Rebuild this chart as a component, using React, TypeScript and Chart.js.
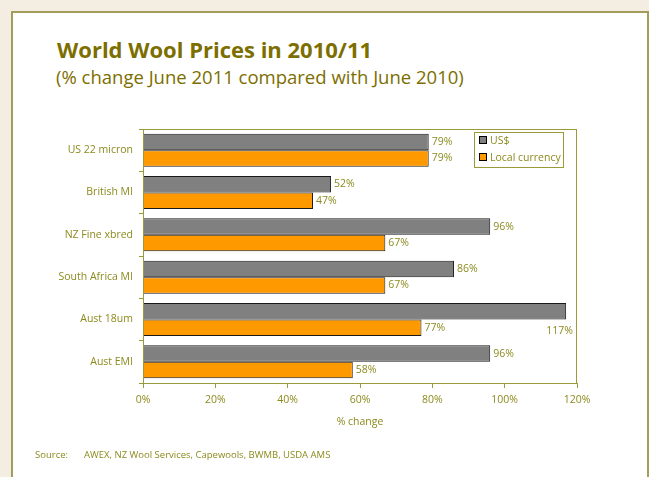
import React, { useEffect, useRef } from "react";
import { Chart, registerables } from "chart.js";

Chart.register(...registerables);

const categories = ["US 22 micron", "British MI", "NZ Fine xbred", "South Africa MI", "Aust 18um", "Aust EMI"];
const usdValues = [79, 52, 96, 86, 117, 96];
const localValues = [79, 47, 67, 67, 77, 58];
const seriesNames = ["US$", "Local currency"];
const xTicks = [0, 20, 40, 60, 80, 100, 120];

const OLIVE = "#8c8a1e";
const FRAME = "#9a9a3a";
const FONT = "'Open Sans', 'Liberation Sans', sans-serif";

const labelPlugin = {
  id: "valueLabels",
  afterDatasetsDraw(chart: any) {
    const { ctx, chartArea } = chart;
    ctx.save();
    ctx.font = `10.5px ${FONT}`;
    ctx.fillStyle = OLIVE;
    ctx.textBaseline = "middle";
    chart.data.datasets.forEach((ds: any, di: number) => {
      const meta = chart.getDatasetMeta(di);
      meta.data.forEach((el: any, i: number) => {
        const text = ds.data[i] + "%";
        const w = ctx.measureText(text).width;
        if (el.x + 3 + w > chartArea.right) {
          ctx.textAlign = "right";
          ctx.fillText(text, chartArea.right - 4, el.y + el.height / 2 + 12);
        } else {
          ctx.textAlign = "left";
          ctx.fillText(text, el.x + 3, el.y);
        }
      });
    });
    ctx.restore();
  },
};

const framePlugin = {
  id: "plotFrame",
  afterDraw(chart: any) {
    const { ctx, chartArea } = chart;
    ctx.save();
    ctx.strokeStyle = FRAME;
    ctx.lineWidth = 1;
    ctx.strokeRect(chartArea.left + 0.5, chartArea.top + 0.5, chartArea.right - chartArea.left - 1, chartArea.bottom - chartArea.top);
    // legend
    const lx = 474, ly = 132, lw = 89, lh = 35;
    ctx.fillStyle = "#ffffff";
    ctx.fillRect(lx, ly, lw, lh);
    ctx.strokeStyle = FRAME;
    ctx.strokeRect(lx + 0.5, ly + 0.5, lw, lh);
    ctx.font = `10.5px ${FONT}`;
    ctx.textBaseline = "middle";
    ctx.textAlign = "left";
    chart.data.datasets.forEach((ds: any, i: number) => {
      const cy = ly + 9 + i * 17;
      ctx.fillStyle = ds.backgroundColor;
      ctx.fillRect(lx + 5.5, cy - 4.5, 7, 7);
      ctx.strokeStyle = "#000";
      ctx.strokeRect(lx + 5.5, cy - 4.5, 7, 7);
      ctx.fillStyle = OLIVE;
      ctx.fillText(ds.label, lx + 16, cy);
    });
    ctx.restore();
  },
};

function WoolChart() {
  const ref = useRef<HTMLCanvasElement>(null);
  useEffect(() => {
    if (!ref.current) return;
    const chart = new Chart(ref.current, {
      type: "bar",
      data: {
        labels: categories,
        datasets: [
          { label: seriesNames[0], data: usdValues, backgroundColor: "#808080", borderColor: "#1a1a1a", borderWidth: 1 },
          { label: seriesNames[1], data: localValues, backgroundColor: "#ff9900", borderColor: "#1a1a1a", borderWidth: 1 },
        ],
      },
      options: {
        indexAxis: "y",
        animation: false,
        responsive: false,
        maintainAspectRatio: false,
        layout: { padding: { left: 0, right: 72, top: 129, bottom: 44 } },
        datasets: { bar: { categoryPercentage: 0.78, barPercentage: 1.0 } },
        plugins: { legend: { display: false }, tooltip: { enabled: false }, title: { display: false } },
        scales: {
          x: {
            min: 0,
            max: 120,
            afterFit(scale: any) { scale.height = 50; },
            afterBuildTicks(scale: any) { scale.ticks = xTicks.map((v) => ({ value: v })); },
            ticks: { color: OLIVE, font: { family: FONT, size: 10.5 }, padding: 6, callback: (v: any) => v + "%" },
            grid: { drawOnChartArea: false, tickLength: 5, color: FRAME },
            border: { color: FRAME },
            title: { display: true, text: "% change", color: OLIVE, font: { family: FONT, size: 10.5 }, padding: { top: 0, bottom: 5 } },
          },
          y: {
            afterFit(scale: any) { scale.width = 143; },
            ticks: { color: OLIVE, font: { family: FONT, size: 10.5 }, padding: 6 },
            grid: { drawOnChartArea: false, tickLength: 4, color: FRAME, offset: true },
            border: { color: FRAME },
          },
        },
      },
      plugins: [labelPlugin, framePlugin],
    } as any);
    return () => chart.destroy();
  }, []);
  return <canvas ref={ref} width={649} height={477} style={{ position: "absolute", left: 0, top: 0, width: 649, height: 477 }} />;
}

export default function App() {
  return (
    <div style={{ position: "fixed", left: 0, top: 0, width: 649, height: 477, background: "#f3ede2", overflow: "hidden", fontFamily: FONT }}>
      <div style={{ position: "absolute", left: 11, top: 11, width: 634, height: 500, background: "#fff", border: "2px solid #a39d5c" }} />
      <div style={{ position: "absolute", left: 57, top: 34, fontSize: 22, lineHeight: "30px", fontWeight: 700, color: "#7d6e00", whiteSpace: "nowrap" }}>
        World Wool Prices in 2010/11
      </div>
      <div style={{ position: "absolute", left: 56, top: 64, fontSize: 18.5, lineHeight: "26px", color: "#7d6e00", whiteSpace: "nowrap" }}>
        (% change June 2011 compared with June 2010)
      </div>
      <WoolChart />
      <div style={{ position: "absolute", left: 35, top: 448, fontSize: 9.5, color: OLIVE, whiteSpace: "nowrap" }}>
        Source:<span style={{ marginLeft: 16 }}>AWEX, NZ Wool Services, Capewools, BWMB, USDA AMS</span>
      </div>
    </div>
  );
}
